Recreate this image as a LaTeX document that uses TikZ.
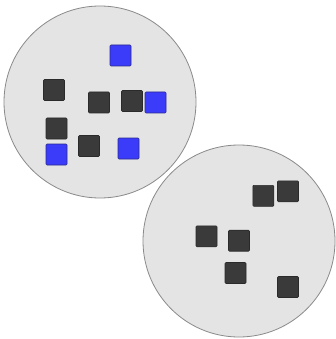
\documentclass[tikz,border=0pt]{standalone}
\definecolor{circfill}{HTML}{E4E4E4}
\definecolor{circline}{HTML}{8A8A8A}
\definecolor{darkfill}{HTML}{3A3A3A}
\definecolor{darkline}{HTML}{2A2A2A}
\definecolor{bluefill}{HTML}{3B3BFA}
\definecolor{blueline}{HTML}{2A2A90}
\begin{document}
\begin{tikzpicture}[x=1pt,y=-1pt,
  group/.style={circle,draw=circline,fill=circfill,line width=0.8pt,minimum size=192pt,inner sep=0pt},
  darksq/.style={rectangle,rounded corners=1pt,draw=darkline,fill=darkfill,line width=0.6pt,minimum size=21pt,inner sep=0pt},
  bluesq/.style={rectangle,rounded corners=1pt,draw=blueline,fill=bluefill,line width=0.6pt,minimum size=21pt,inner sep=0pt}]
\useasboundingbox (0,0) rectangle (335,339);
\node[group] (g1) at (100,102) {};
\node[group] (g2) at (239,241) {};
% group 1
\node[bluesq] (a1) at (120.5,55.5) {};
\node[darksq] (a2) at (54,90) {};
\node[darksq] (a3) at (99,102.5) {};
\node[darksq] (a4) at (132,101) {};
\node[bluesq] (a5) at (155.5,102.5) {};
\node[darksq] (a6) at (56.5,128.5) {};
\node[bluesq] (a7) at (56.5,154.5) {};
\node[darksq] (a8) at (89,146) {};
\node[bluesq] (a9) at (128.5,148.5) {};
% group 2
\node[darksq] (b1) at (263.3,195.8) {};
\node[darksq] (b2) at (288,191.3) {};
\node[darksq] (b3) at (206.5,236.3) {};
\node[darksq] (b4) at (239,240.7) {};
\node[darksq] (b5) at (235.5,273) {};
\node[darksq] (b6) at (288,287) {};
\end{tikzpicture}
\end{document}
